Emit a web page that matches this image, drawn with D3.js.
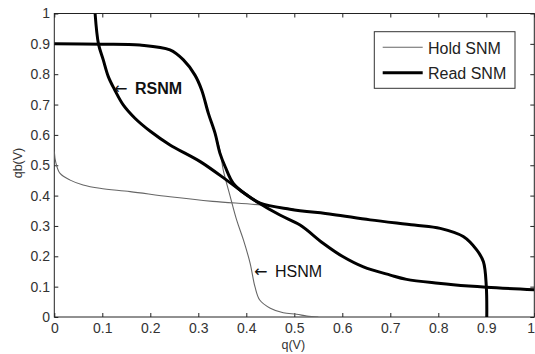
<!DOCTYPE html>
<html>
<head>
<meta charset="utf-8">
<script src="https://cdn.jsdelivr.net/npm/d3@7"></script>
<style>
  body { margin: 0; background: #fff; }
  text { font-family: "Liberation Sans", Arial, sans-serif; }
</style>
</head>
<body>
<svg id="chart" width="535" height="354"></svg>
<script>
// read SNM, curve starting flat at 0.9
const readA = [
  [0, 0.9], [0.1, 0.899], [0.178, 0.896], [0.241, 0.88], [0.269, 0.847],
  [0.293, 0.797], [0.307, 0.748], [0.321, 0.671], [0.335, 0.605], [0.345, 0.54],
  [0.356, 0.495], [0.373, 0.44], [0.401, 0.402], [0.429, 0.375], [0.491, 0.355],
  [0.58, 0.338], [0.658, 0.32], [0.75, 0.303], [0.804, 0.292], [0.852, 0.265],
  [0.88, 0.221], [0.894, 0.182], [0.9, 0.1], [0.901, 0],
];
// read SNM, mirrored curve dropping from the top
const readB = [
  [0.085, 1.0], [0.092, 0.9], [0.102, 0.847], [0.1125, 0.792], [0.126, 0.748],
  [0.144, 0.698], [0.168, 0.655], [0.2, 0.612], [0.241, 0.567], [0.304, 0.512],
  [0.359, 0.451], [0.387, 0.418], [0.422, 0.38], [0.47, 0.336], [0.512, 0.303],
  [0.56, 0.243], [0.6, 0.2], [0.644, 0.165], [0.7, 0.138], [0.734, 0.124],
  [0.8, 0.111], [0.831, 0.106], [0.9, 0.098], [1.0, 0.09],
];
// hold SNM, near-horizontal curve
const holdA = [
  [0, 0.545], [0.003, 0.51], [0.012, 0.473], [0.033, 0.451], [0.06, 0.435],
  [0.095, 0.424], [0.158, 0.413], [0.241, 0.396], [0.33, 0.381], [0.43, 0.369],
  [0.5, 0.355],
];
// hold SNM, near-vertical curve
const holdB = [
  [0.335, 0.605], [0.345, 0.55], [0.352, 0.484], [0.366, 0.4], [0.38, 0.319],
  [0.394, 0.254], [0.408, 0.177], [0.418, 0.1], [0.428, 0.056], [0.45, 0.029],
  [0.477, 0.014], [0.505, 0.009], [0.526, 0.003], [0.55, 0],
];
const tickValues = [0, 0.1, 0.2, 0.3, 0.4, 0.5, 0.6, 0.7, 0.8, 0.9, 1];
const legendItems = ['Hold SNM', 'Read SNM'];

const margin = { left: 54.3, top: 13.5 };
const width = 480;
const height = 303.5;

const svg = d3.select('#chart');
const g = svg.append('g')
  .attr('transform', `translate(${margin.left},${margin.top})`);

const x = d3.scaleLinear().domain([0, 1]).range([0, width]);
const y = d3.scaleLinear().domain([0, 1]).range([height, 0]);

g.append('clipPath').attr('id', 'plot-clip')
  .append('rect').attr('width', width).attr('height', height);

const fmt = d => (d === 0 || d === 1) ? String(d) : d.toFixed(1);

// axes, ticks inward on all four sides
const xAxis = g.append('g')
  .attr('transform', `translate(0,${height})`)
  .call(d3.axisBottom(x).tickValues(tickValues).tickFormat(fmt).tickSizeInner(-4).tickSizeOuter(0));
xAxis.selectAll('text').attr('y', 15.5).attr('dy', 0);
// last label sits on the window edge, keep it inside
xAxis.selectAll('text').filter(d => d === 1).attr('text-anchor', 'end').attr('x', 0.3);

const yAxis = g.append('g')
  .call(d3.axisLeft(y).tickValues(tickValues).tickFormat(fmt).tickSizeInner(-4).tickSizeOuter(0).tickPadding(4.3));

g.append('g')
  .call(d3.axisTop(x).tickValues(tickValues).tickFormat('').tickSizeInner(-4).tickSizeOuter(0));
g.append('g')
  .attr('transform', `translate(${width},0)`)
  .call(d3.axisRight(y).tickValues(tickValues).tickFormat('').tickSizeInner(-4).tickSizeOuter(0));

g.selectAll('.domain').remove();
g.selectAll('.tick line').attr('stroke', '#222');
g.selectAll('.tick text')
  .attr('fill', '#333')
  .style('font-size', '14px')
  .style('font-family', '"Liberation Sans", Arial, sans-serif');

g.append('rect')
  .attr('width', width)
  .attr('height', height)
  .attr('fill', 'none')
  .attr('stroke', '#222')
  .attr('stroke-width', 1);

// curves
const line = d3.line()
  .x(d => x(d[0]))
  .y(d => y(d[1]))
  .curve(d3.curveCatmullRom.alpha(0.5));

const curves = g.append('g').attr('clip-path', 'url(#plot-clip)');
for (const data of [holdA, holdB]) {
  curves.append('path')
    .datum(data)
    .attr('d', line)
    .attr('fill', 'none')
    .attr('stroke', '#666')
    .attr('stroke-width', 1.1);
}
for (const data of [readA, readB]) {
  curves.append('path')
    .datum(data)
    .attr('d', line)
    .attr('fill', 'none')
    .attr('stroke', '#000')
    .attr('stroke-width', 3);
}

// axis labels
svg.append('text')
  .attr('x', 293.3)
  .attr('y', 349)
  .attr('text-anchor', 'middle')
  .attr('fill', '#333')
  .style('font-size', '12.5px')
  .text('q(V)');
svg.append('text')
  .attr('transform', 'translate(22,163) rotate(-90)')
  .attr('text-anchor', 'middle')
  .attr('fill', '#333')
  .style('font-size', '12.5px')
  .text('qb(V)');

// curve annotations
function annotate(ax, tx, baseline, label, weight) {
  svg.append('text')
    .attr('x', ax).attr('y', baseline)
    .attr('fill', '#111')
    .style('font-size', '16px')
    .style('font-family', '"DejaVu Sans", sans-serif')
    .style('font-weight', 'normal')
    .text('←');
  svg.append('text')
    .attr('x', tx).attr('y', baseline)
    .attr('fill', '#111')
    .style('font-size', '16px')
    .style('font-weight', weight)
    .text(label);
}
annotate(114, 135, 94.3, 'RSNM', 'bold');
annotate(254, 275, 276.7, 'HSNM', 'normal');

// legend
const legend = svg.append('g');
legend.append('rect')
  .attr('x', 374.3).attr('y', 31.7)
  .attr('width', 140.7).attr('height', 56.6)
  .attr('fill', '#fff')
  .attr('stroke', '#333');

legend.selectAll('.item')
  .data(legendItems)
  .enter()
  .append('g')
  .each(function (d, i) {
    const item = d3.select(this);
    const ly = 47.3 + i * 25.4;
    item.append('line')
      .attr('x1', 382.7).attr('x2', 422.7)
      .attr('y1', ly).attr('y2', ly)
      .attr('stroke', i === 0 ? '#666' : '#000')
      .attr('stroke-width', i === 0 ? 1.1 : 3);
    item.append('text')
      .attr('x', 428).attr('y', ly + 6.5)
      .attr('fill', '#222')
      .style('font-size', '16px')
      .text(d);
  });
</script>
</body>
</html>
